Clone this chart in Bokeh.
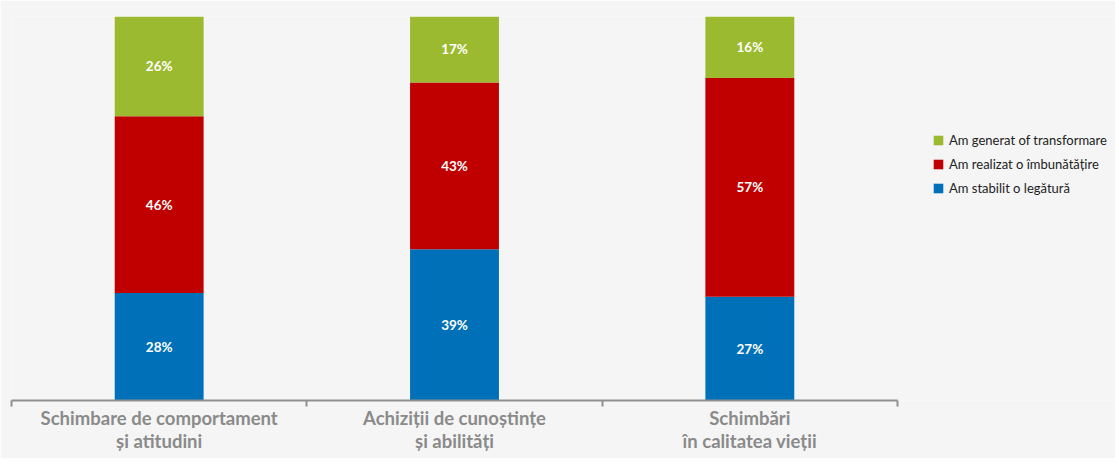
from bokeh.plotting import figure
from bokeh.models import ColumnDataSource, Range1d, FixedTicker, Legend, LegendItem
from bokeh.core.properties import value
from bokeh.embed import file_html
from bokeh.resources import INLINE
import numpy as np

categories = ["Schimbare de comportament\nși atitudini",
              "Achiziții de cunoștințe\nși abilități",
              "Schimbări\nîn calitatea vieții"]
series_names = ["Am stabilit o legătură", "Am realizat o îmbunătățire", "Am generat of transformare"]
stabilit = [28, 39, 27]
realizat = [46, 43, 57]
generat = [26, 17, 16]
colors = ["#0071b9", "#c00000", "#9cba2f"]

n = len(categories)
xs = np.arange(n) + 0.5
vals = np.array([stabilit, realizat, generat], dtype=float)
shares = vals / vals.sum(axis=0) * 100.0

keys = ["s0", "s1", "s2"]
data = {"x": xs}
for k, row in zip(keys, shares):
    data[k] = row
src = ColumnDataSource(data)

W = 1115
left_b, top_b, bottom_b = 11, 16, 58
frame_h = 384
H = top_b + frame_h + bottom_b
frame_w = W - left_b
axis_px = 886
x_end = n * frame_w / axis_px

p = figure(width=W, height=H, output_backend="svg", toolbar_location=None,
           x_range=Range1d(0, x_end), y_range=Range1d(0, 100),
           y_axis_location=None, min_border_left=left_b, min_border_right=0,
           min_border_top=top_b, min_border_bottom=bottom_b,
           background_fill_color="#f5f5f5", border_fill_color="#f5f5f5")
p.outline_line_color = None
p.grid.visible = False

renderers = p.vbar_stack(keys, x="x", width=0.301, source=src, color=colors, line_color=None)

# labels
cum = np.cumsum(shares, axis=0)
mids = cum - shares / 2
lx, ly, lt = [], [], []
for i in range(3):
    for j in range(n):
        lx.append(xs[j]); ly.append(mids[i, j]); lt.append(f"{int(vals[i, j])}%")
p.text(x=lx, y=ly, text=lt, text_color="white", text_font=value("Lato"),
       text_font_style="bold", text_font_size="13.5px", text_align="center",
       text_baseline="middle")

ax = p.xaxis[0]
ax.ticker = FixedTicker(ticks=list(xs), minor_ticks=list(range(n + 1)))
ax.major_label_overrides = {float(x): c for x, c in zip(xs, categories)}
ax.bounds = (0, n)
ax.axis_line_color = "#8f8f8f"
ax.axis_line_width = 2
ax.major_tick_line_color = None
ax.major_tick_out = 6
ax.major_tick_in = 0
ax.minor_tick_line_color = "#8f8f8f"
ax.minor_tick_line_width = 2
ax.minor_tick_out = 6
ax.minor_tick_in = 0
ax.major_label_standoff = 0
ax.major_label_text_font = "Lato"
ax.major_label_text_font_style = "bold"
ax.major_label_text_font_size = "18.5px"
ax.major_label_text_color = "#8a8a8a"
ax.major_label_text_line_height = 1.05

items = [LegendItem(label=series_names[i], renderers=[renderers[i]]) for i in [2, 1, 0]]
legend = Legend(items=items, location=(921, 204), orientation="vertical",
                glyph_width=12, glyph_height=12, label_standoff=5, spacing=8,
                padding=0, margin=0, border_line_color=None, background_fill_alpha=0,
                label_text_font="Lato", label_text_font_size="13px", label_text_color="#222222",
                label_height=12)
p.add_layout(legend)

open("out.html", "w").write(file_html(p, INLINE))
